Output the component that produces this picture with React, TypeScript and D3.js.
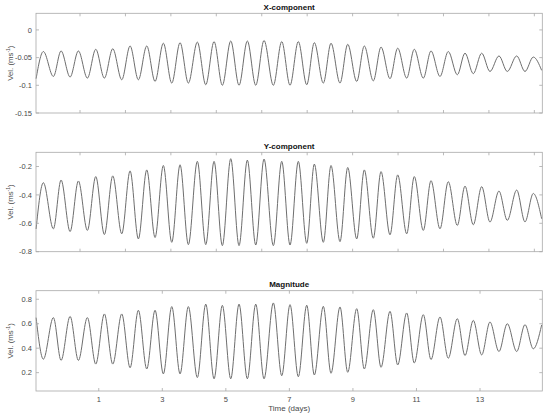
import React from "react";
import * as d3 from "d3";

// Time (days) of each sample: start, alternating extremes, end
const times = [
  -0.972, -0.743, -0.428, -0.186, 0.098, 0.359, 0.642, 0.906, 1.177, 1.441,
  1.724, 1.986, 2.247, 2.511, 2.772, 3.033, 3.298, 3.559, 3.82, 4.103,
  4.368, 4.629, 4.89, 5.154, 5.415, 5.677, 5.941, 6.202, 6.495, 6.759,
  7.02, 7.281, 7.546, 7.785, 8.068, 8.31, 8.593, 8.836, 9.119, 9.358,
  9.641, 9.884, 10.167, 10.409, 10.692, 10.931, 11.215, 11.457, 11.74, 12.001,
  12.285, 12.527, 12.788, 13.052, 13.313, 13.596, 13.858, 14.154, 14.415, 14.676,
  14.94,
];

const xComp = [
  -0.088,
  -0.039, -0.084, -0.038, -0.085, -0.038, -0.087, -0.035, -0.087, -0.034, -0.09,
  -0.029, -0.09, -0.029, -0.093, -0.024, -0.096, -0.023, -0.096, -0.022, -0.099,
  -0.021, -0.1, -0.02, -0.1, -0.02, -0.1, -0.019, -0.1,
  -0.021, -0.1, -0.021, -0.099, -0.023, -0.096, -0.024, -0.096, -0.026, -0.093,
  -0.029, -0.092, -0.031, -0.088, -0.033, -0.087, -0.035, -0.087, -0.038, -0.084,
  -0.039, -0.081, -0.042, -0.079, -0.042, -0.075, -0.047, -0.075, -0.047, -0.075,
  -0.049, -0.073,
];

const yComp = [
  -0.64,
  -0.314, -0.639, -0.295, -0.658, -0.302, -0.65, -0.271, -0.679, -0.266, -0.674,
  -0.231, -0.71, -0.224, -0.7, -0.193, -0.734, -0.188, -0.75, -0.164, -0.75,
  -0.164, -0.757, -0.145, -0.757, -0.155, -0.753, -0.148, -0.757,
  -0.164, -0.753, -0.164, -0.741, -0.183, -0.734, -0.193, -0.729, -0.207, -0.71,
  -0.224, -0.705, -0.236, -0.681, -0.259, -0.674, -0.271, -0.65, -0.3, -0.639,
  -0.307, -0.615, -0.338, -0.61, -0.342, -0.591, -0.373, -0.579, -0.366, -0.59,
  -0.39, -0.568,
];

const magnitude = [
  0.65,
  0.31, 0.65, 0.3, 0.66, 0.3, 0.65, 0.27, 0.68, 0.27, 0.68,
  0.24, 0.71, 0.23, 0.71, 0.19, 0.74, 0.19, 0.74, 0.16, 0.76,
  0.15, 0.75, 0.15, 0.76, 0.15, 0.76, 0.15, 0.77,
  0.175, 0.756, 0.167, 0.751, 0.181, 0.742, 0.195, 0.737, 0.203, 0.723,
  0.23, 0.715, 0.244, 0.701, 0.263, 0.688, 0.279, 0.674, 0.307, 0.655,
  0.318, 0.641, 0.34, 0.627, 0.345, 0.614, 0.373, 0.6, 0.373, 0.592,
  0.395, 0.59,
];

const titles = ["X-component", "Y-component", "Magnitude"];
const yDomains: [number, number][] = [[-0.15, 0.03], [-0.8, -0.1], [0.05, 0.87]];
const yTicks = [[-0.15, -0.1, -0.05, 0], [-0.8, -0.6, -0.4, -0.2], [0.2, 0.4, 0.6, 0.8]];
const xTicksUpper = [0.41, 1.84, 3.27, 4.7, 6.13, 7.56, 8.99, 10.42, 11.85, 13.28, 14.71];
const xTicksLower = [1, 3, 5, 7, 9, 11, 13];
const xDomain: [number, number] = [-0.975, 14.96];
const xLabel = "Time (days)";

const W = 550, H = 419;
const left = 36, right = 542.3;
const panels = [
  { top: 13.3, bottom: 113 },
  { top: 152.3, bottom: 251.7 },
  { top: 290.7, bottom: 391 },
];
const series = [xComp, yComp, magnitude];
const FONT = "'Liberation Sans', Arial, Helvetica, sans-serif";

function fmt(v: number) {
  return String(+v.toFixed(3));
}

export default function App() {
  const x = d3.scaleLinear().domain(xDomain).range([left, right]);
  const tl = 3;
  return (
    <svg
      width={W}
      height={H}
      style={{ position: "absolute", left: 0, top: 0, background: "#fff" }}
      fontFamily={FONT}
    >
      <rect x={0} y={0} width={W} height={H} fill="#fff" />
      {panels.map((p, i) => {
        const y = d3.scaleLinear().domain(yDomains[i]).range([p.bottom, p.top]);
        const data = times.map((t, k) => [t, series[i][k]] as [number, number]);
        const line = d3
          .line<[number, number]>()
          .x((d) => x(d[0]))
          .y((d) => y(d[1]))
          .curve(d3.curveMonotoneX);
        const xt = i === 2 ? xTicksLower : xTicksUpper;
        const cy = (p.top + p.bottom) / 2;
        return (
          <g key={i}>
            <path d={line(data) || ""} fill="none" stroke="#6e6e6e" strokeWidth={1} />
            <rect
              x={left}
              y={p.top}
              width={right - left}
              height={p.bottom - p.top}
              fill="none"
              stroke="#a8a8a8"
              strokeWidth={0.8}
            />
            {xt.map((t) => (
              <g key={t}>
                <line x1={x(t)} x2={x(t)} y1={p.bottom} y2={p.bottom - tl} stroke="#a8a8a8" strokeWidth={0.8} />
                <line x1={x(t)} x2={x(t)} y1={p.top} y2={p.top + tl} stroke="#a8a8a8" strokeWidth={0.8} />
                {i === 2 && (
                  <text x={x(t)} y={p.bottom + 10.5} fontSize={7.5} textAnchor="middle" fill="#4a4a4a">
                    {t}
                  </text>
                )}
              </g>
            ))}
            {yTicks[i].map((v) => (
              <g key={v}>
                <line x1={left} x2={left + tl} y1={y(v)} y2={y(v)} stroke="#a8a8a8" strokeWidth={0.8} />
                <line x1={right} x2={right - tl} y1={y(v)} y2={y(v)} stroke="#a8a8a8" strokeWidth={0.8} />
                <text x={left - 4} y={y(v) + 2.6} fontSize={7.5} textAnchor="end" fill="#4a4a4a">
                  {fmt(v)}
                </text>
              </g>
            ))}
            <text
              x={(left + right) / 2}
              y={p.top - 3.5}
              fontSize={8}
              fontWeight="bold"
              textAnchor="middle"
              fill="#111"
            >
              {titles[i]}
            </text>
            <text
              transform={`translate(${12.5},${cy}) rotate(-90)`}
              fontSize={7.8}
              textAnchor="middle"
              fill="#4a4a4a"
            >
              Vel. (ms
              <tspan fontSize={5} dy={-3}>-1</tspan>
              <tspan dy={3}>)</tspan>
            </text>
          </g>
        );
      })}
      <text x={(left + right) / 2} y={411} fontSize={8} textAnchor="middle" fill="#4a4a4a">
        {xLabel}
      </text>
    </svg>
  );
}
